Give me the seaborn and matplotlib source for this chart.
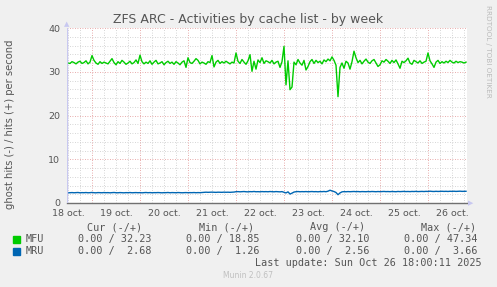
import numpy as np
import pandas as pd
import matplotlib
matplotlib.use("Agg")
import matplotlib.pyplot as plt
import seaborn as sns

# ---- data (hourly samples, hours since 18 Oct 00:00, starting at 12h) ----
mfu = [
    32.0, 31.9, 32.3, 32.1, 31.8, 32.2, 32.4, 31.9, 32.1, 32.5, 31.8, 32.2, 33.7, 32.6, 32.0, 31.7, 32.3, 31.9, 32.2, 32.0,
    31.8, 32.4, 33.0, 32.1, 31.6, 32.3, 31.9, 32.6, 32.2, 31.7, 32.0, 32.4, 31.8, 32.1, 32.7, 31.9, 33.8, 32.3, 31.8, 32.2,
    31.9, 32.5, 31.7, 32.2, 32.6, 31.8, 32.0, 32.3, 31.6, 32.1, 32.4, 31.9, 32.2, 31.7, 32.3, 32.0, 31.6, 32.2, 32.5, 31.0,
    33.2, 32.1, 31.9, 32.4, 33.0, 32.6, 31.8, 32.2, 32.0, 31.7, 32.3, 32.1, 33.7, 31.1, 32.2, 32.6, 31.9, 32.3, 32.0, 32.4,
    32.1, 31.8, 32.2, 32.0, 34.3, 32.4, 31.9, 32.8, 32.2, 31.7, 32.5, 33.9, 30.1, 32.4, 30.6, 32.7, 32.1, 33.2, 31.9, 32.5,
    32.3, 32.0, 32.6, 31.8, 32.2, 32.4, 31.0, 32.3, 35.8, 27.0, 32.5, 25.9, 26.5, 32.2, 31.6, 32.8, 32.0, 31.5, 32.6, 30.4,
    31.2, 32.3, 32.8, 31.9, 32.6, 32.1, 32.4, 31.8, 32.7, 32.3, 32.9, 32.5, 33.4, 32.6, 31.5, 24.3, 31.0, 32.0, 30.8, 32.4,
    32.0, 30.6, 32.3, 34.7, 33.2, 32.1, 32.6, 31.8, 32.4, 32.9, 32.2, 31.9, 32.5, 32.8, 32.0, 31.2, 31.6, 32.5, 32.2, 32.8,
    32.4, 31.9, 32.6, 32.1, 32.7, 31.8, 30.8, 32.4, 32.1, 32.5, 33.1, 32.0, 31.7, 32.6, 32.3, 32.0, 32.5, 31.9, 32.2, 32.4,
    34.3, 32.5, 31.8, 31.0, 32.2, 32.6, 31.9, 32.3, 32.0, 32.4, 32.1, 32.6, 32.2, 32.0, 32.4, 32.1, 32.3, 32.2, 32.0, 32.2,
]
mru = [
    2.32, 2.35, 2.38, 2.34, 2.36, 2.40, 2.33, 2.37, 2.35, 2.39, 2.34, 2.36, 2.41, 2.35, 2.33, 2.38, 2.36, 2.34, 2.39, 2.35,
    2.37, 2.33, 2.36, 2.40, 2.35, 2.34, 2.38, 2.36, 2.33, 2.37, 2.35, 2.39, 2.34, 2.36, 2.38, 2.35, 2.37, 2.33, 2.36, 2.40,
    2.35, 2.38, 2.34, 2.37, 2.36, 2.39, 2.35, 2.33, 2.37, 2.36, 2.40, 2.34, 2.38, 2.36, 2.35, 2.39, 2.37, 2.34, 2.36, 2.38,
    2.35, 2.37, 2.36, 2.39, 2.35, 2.38, 2.36, 2.40, 2.45, 2.47, 2.44, 2.46, 2.48, 2.45, 2.43, 2.47, 2.46, 2.44, 2.48, 2.45,
    2.47, 2.44, 2.46, 2.50, 2.58, 2.60, 2.56, 2.59, 2.62, 2.57, 2.55, 2.60, 2.58, 2.63, 2.57, 2.59, 2.56, 2.61, 2.58, 2.60,
    2.57, 2.62, 2.59, 2.56, 2.61, 2.58, 2.55, 2.60, 2.45, 2.30, 2.55, 2.05, 2.25, 2.50, 2.58, 2.62, 2.57, 2.60, 2.58, 2.61,
    2.57, 2.59, 2.62, 2.58, 2.60, 2.56, 2.61, 2.59, 2.63, 2.58, 2.70, 2.92, 2.75, 2.62, 2.40, 1.90, 2.30, 2.55, 2.60, 2.57,
    2.61, 2.58, 2.60, 2.63, 2.59, 2.62, 2.57, 2.61, 2.60, 2.58, 2.62, 2.59, 2.63, 2.60, 2.58, 2.62, 2.59, 2.61, 2.64, 2.60,
    2.62, 2.59, 2.63, 2.61, 2.58, 2.64, 2.60, 2.62, 2.65, 2.61, 2.63, 2.60, 2.64, 2.62, 2.66, 2.61, 2.63, 2.65, 2.62, 2.66,
    2.64, 2.70, 2.65, 2.63, 2.67, 2.64, 2.66, 2.68, 2.65, 2.67, 2.64, 2.68, 2.66, 2.69, 2.65, 2.67, 2.70, 2.66, 2.68, 2.68,
]
hours = list(range(12, 12 + len(mfu)))
day_labels = ["18 oct.", "19 oct.", "20 oct.", "21 oct.", "22 oct.", "23 oct.", "24 oct.", "25 oct.", "26 oct."]
y_ticks = [0, 10, 20, 30, 40]
series_names = ["MFU", "MRU"]
series_colors = ["#00CC00", "#0066B3"]
cur_vals = ["0.00 / 32.23", "0.00 /  2.68"]
min_vals = ["0.00 / 18.85", "0.00 /  1.26"]
avg_vals = ["0.00 / 32.10", "0.00 /  2.56"]
max_vals = ["0.00 / 47.34", "0.00 /  3.66"]

df = pd.DataFrame({"hour": hours * 2,
                   "value": mfu + mru,
                   "series": ["MFU"] * len(mfu) + ["MRU"] * len(mru)})

W, H = 497, 287
fig = plt.figure(figsize=(W / 100, H / 100), dpi=100, facecolor="#F0F0F0")
L, R, T, B = 67, 467, 28, 203
ax = fig.add_axes([L / W, 1 - B / H, (R - L) / W, (B - T) / H])
ax.set_facecolor("white")

x0, x1 = 11.5, 211.5
ax.set_xlim(x0, x1)
ax.set_ylim(0, 40)

# grid
for h in range(12, 212, 6):
    if h % 24 != 0:
        ax.axvline(h, color="#C8C8C8", lw=0.6, ls=(0, (1, 2)), zorder=0)
for yv in range(2, 40, 2):
    if yv % 10 != 0:
        ax.axhline(yv, color="#C8C8C8", lw=0.6, ls=(0, (1, 2)), zorder=0)
for h in range(24, 212, 24):
    ax.axvline(h, color="#E09090", lw=0.6, ls=(0, (1, 2)), zorder=0)
for yv in [10, 20, 30, 40]:
    ax.axhline(yv, color="#E09090", lw=0.6, ls=(0, (1, 2)), zorder=0)

sns.lineplot(data=df, x="hour", y="value", hue="series", hue_order=series_names,
             palette=series_colors, linewidth=1.0, legend=False, ax=ax, zorder=3)

for s in ax.spines.values():
    s.set_visible(False)
ax.axhline(0, color="#707070", lw=1.0, zorder=4, clip_on=False)
ax.axvline(x0, color="#C8C8F0", lw=1.0, zorder=4)

ax.set_yticks(y_ticks)
ax.set_yticklabels([str(v) for v in y_ticks])
ax.set_xticks([12 + 24 * i for i in range(len(day_labels))])
ax.set_xticklabels(day_labels)
ax.tick_params(axis="both", length=0, labelsize=6.8, colors="#555555")
ax.tick_params(axis="y", pad=5)
ax.tick_params(axis="x", pad=4)
ax.set_xlabel("")
ax.set_ylabel("")

# arrows
fig.text(L / W, 1 - 24 / H, "\u25B2", fontsize=5, color="#C8C8F0", ha="center", va="center")
fig.text(471 / W, 1 - 203.5 / H, "\u25B6", fontsize=5, color="#C8C8F0", ha="center", va="center")

# title and labels
fig.text(248 / W, 1 - 19 / H, "ZFS ARC - Activities by cache list - by week",
         fontsize=9, color="#555555", ha="center", va="center")
fig.text(10 / W, 1 - 124 / H, "ghost hits (-) / hits (+) per second", rotation=90,
         fontsize=7.2, color="#555555", ha="center", va="center")
fig.text(488 / W, 1 - 5 / H, "RRDTOOL / TOBI OETIKER", rotation=270,
         fontsize=5.2, color="#BBBBBB", ha="center", va="top")

mono = dict(family="DejaVu Sans Mono", fontsize=7.3, color="#555555", va="center")
hy = 227
fig.text(142 / W, 1 - hy / H, "Cur (-/+)", ha="right", **mono)
fig.text(254 / W, 1 - hy / H, "Min (-/+)", ha="right", **mono)
fig.text(365 / W, 1 - hy / H, "Avg (-/+)", ha="right", **mono)
fig.text(476 / W, 1 - hy / H, "Max (-/+)", ha="right", **mono)
for i, name in enumerate(series_names):
    yy = 1 - (239 + 12 * i) / H
    fig.patches.append(plt.Rectangle((13 / W, yy - 3.5 / H), 7 / W, 7 / H,
                                     transform=fig.transFigure, color=series_colors[i]))
    fig.text(26 / W, yy, name, ha="left", **mono)
    fig.text(152 / W, yy, cur_vals[i], ha="right", **mono)
    fig.text(260 / W, yy, min_vals[i], ha="right", **mono)
    fig.text(369 / W, yy, avg_vals[i], ha="right", **mono)
    fig.text(477 / W, yy, max_vals[i], ha="right", **mono)
fig.text(482 / W, 1 - 263 / H, "Last update: Sun Oct 26 18:00:11 2025", ha="right", **mono)
fig.text(248 / W, 1 - 276 / H, "Munin 2.0.67", fontsize=5.5, color="#C0C0C0",
         ha="center", va="center")

fig.savefig("out.png", dpi=100, facecolor=fig.get_facecolor())
